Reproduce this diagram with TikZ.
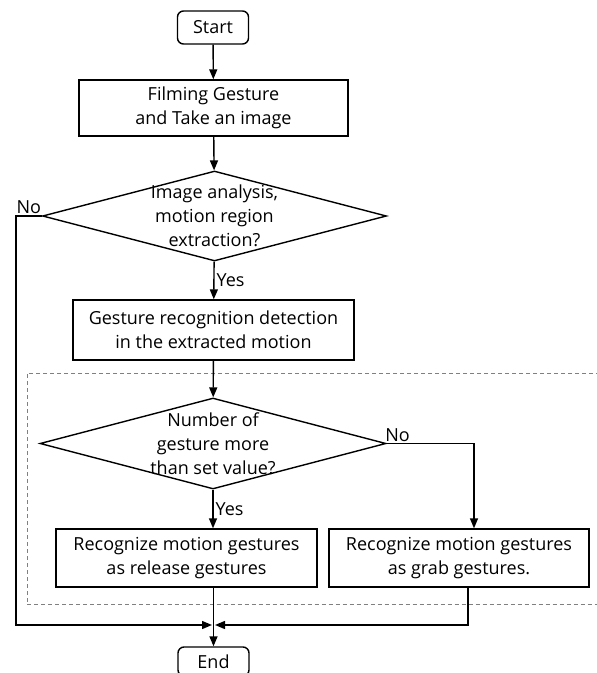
\documentclass[tikz,border=0pt]{standalone}
\usepackage{fontspec}
\setmainfont{Open Sans}
\usetikzlibrary{shapes.geometric,arrows.meta}

\begin{document}
\begin{tikzpicture}[x=1pt, y=-1pt, line width=1.4pt,
    every node/.style={font=\fontsize{18}{24}\selectfont},
    box/.style={draw, rectangle, inner sep=0pt, align=center},
    term/.style={draw, rectangle, rounded corners=6pt, inner sep=0pt, minimum width=71pt, minimum height=33pt},
    decision/.style={draw, diamond, inner sep=0pt, minimum width=344pt, minimum height=90pt},
    arr/.style={-{Triangle[length=10pt,width=8pt]}},
    frame/.style={draw=gray, line width=0.8pt, dash pattern=on 4pt off 3pt}]
            \useasboundingbox (0,0) rectangle (597,673);
            \clip (0,0) rectangle (597,673);
            \node[term] (start) at (213,27.5) {Start};
            \node[box, minimum width=269pt, minimum height=56pt] (film) at (213.5,108) {Filming Gesture\\and Take an image};
            \node[decision, label={[align=center]center:Image analysis,\\motion region\\extraction?}] (analysis) at (214.5,216) {};
            \node[box, minimum width=281pt, minimum height=60pt] (detect) at (213.5,330) {Gesture recognition detection\\in the extracted motion};
            \node[decision, minimum width=346pt, minimum height=91pt, label={[align=center]center:Number of\\gesture more\\than set value?}] (count) at (213,443.5) {};
            \node[box, minimum width=261pt, minimum height=58pt] (release) at (186.5,558) {Recognize motion gestures\\as release gestures};
            \node[box, minimum width=260pt, minimum height=58pt] (grab) at (459,558) {Recognize motion gestures\\as grab gestures.};
            \node[term, minimum height=29pt] (finish) at (213.5,661.5) {End};
            \coordinate (merge) at (213.5,625);
            \draw[frame] (600,373) -- (27,373) -- (27,604.5) -- (600,604.5);
            \draw[arr] (start) -- (film);
            \draw[arr] (film) -- (analysis);
            \draw[arr] (analysis) -- node[right, inner sep=2pt] {Yes} (detect);
            \draw[arr] (detect) -- (count);
            \draw[arr] (count) -- node[right, inner sep=2pt] {Yes} (count |- release.north);
            \draw[arr] (count.east) node[above right, inner sep=0pt, xshift=-2pt, yshift=1pt] {No} -| ([xshift=15pt]grab.north);
            \draw[arr] (analysis.west) -- node[above, inner sep=2pt] {No} ++(-26,0) |- ([xshift=-1.5pt]merge);
            \draw[arr] ([xshift=9pt]grab.south) |- ([xshift=1.5pt]merge);
            \draw[arr] (finish |- release.south) -- (finish);
        \end{tikzpicture}
\end{document}
